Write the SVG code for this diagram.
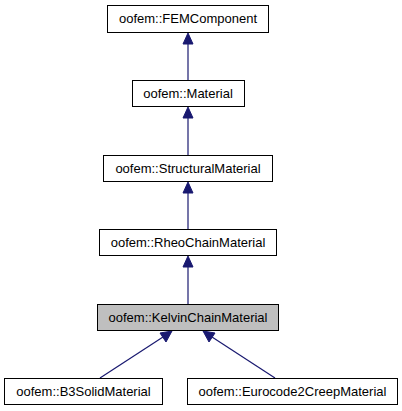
<svg xmlns="http://www.w3.org/2000/svg" width="402" height="411" viewBox="0 0 402 411">
<style>
.n rect{fill:#fff;stroke:#000;stroke-width:1}
.n text{font-family:"Liberation Sans",Arial,sans-serif;font-size:13px;text-anchor:middle;fill:#000}
.e line{stroke:#191970;stroke-width:1.2}
.e polygon{fill:#191970;stroke:#191970}
</style>
<rect width="402" height="411" fill="#fff"/>
<g class="e" id="edges">
<line x1="188" y1="80" x2="188" y2="44"/><polygon points="188,33 183,44 193,44"/>
<line x1="188" y1="155" x2="188" y2="118"/><polygon points="188,107 183,118 193,118"/>
<line x1="188" y1="229" x2="188" y2="193"/><polygon points="188,182 183,193 193,193"/>
<line x1="188" y1="304" x2="188" y2="267"/><polygon points="188,256 183,267 193,267"/>
<line x1="100" y1="378" x2="163" y2="337"/><polygon points="172,331 160,333 166,342"/>
<line x1="275" y1="378" x2="212" y2="337"/><polygon points="203,331 209,342 215,333"/>
</g>
<g class="n" id="FEMComponent"><rect x="107.5" y="5.5" width="161" height="27"/><text x="188" y="23">oofem::FEMComponent</text></g>
<g class="n" id="Material"><rect x="132.5" y="80.5" width="112" height="26"/><text x="188" y="98">oofem::Material</text></g>
<g class="n" id="StructuralMaterial"><rect x="103.5" y="155.5" width="169" height="26"/><text x="188" y="173">oofem::StructuralMaterial</text></g>
<g class="n" id="RheoChainMaterial"><rect x="99.5" y="229.5" width="177" height="26"/><text x="188" y="247">oofem::RheoChainMaterial</text></g>
<g class="n" id="KelvinChainMaterial"><rect x="97.5" y="304.5" width="181" height="26" style="fill:#bfbfbf"/><text x="188" y="322">oofem::KelvinChainMaterial</text></g>
<g class="n" id="B3SolidMaterial"><rect x="4.5" y="378.5" width="158" height="26"/><text x="83.5" y="396">oofem::B3SolidMaterial</text></g>
<g class="n" id="Eurocode2CreepMaterial"><rect x="187.5" y="378.5" width="210" height="26"/><text x="292.5" y="396">oofem::Eurocode2CreepMaterial</text></g>
</svg>
